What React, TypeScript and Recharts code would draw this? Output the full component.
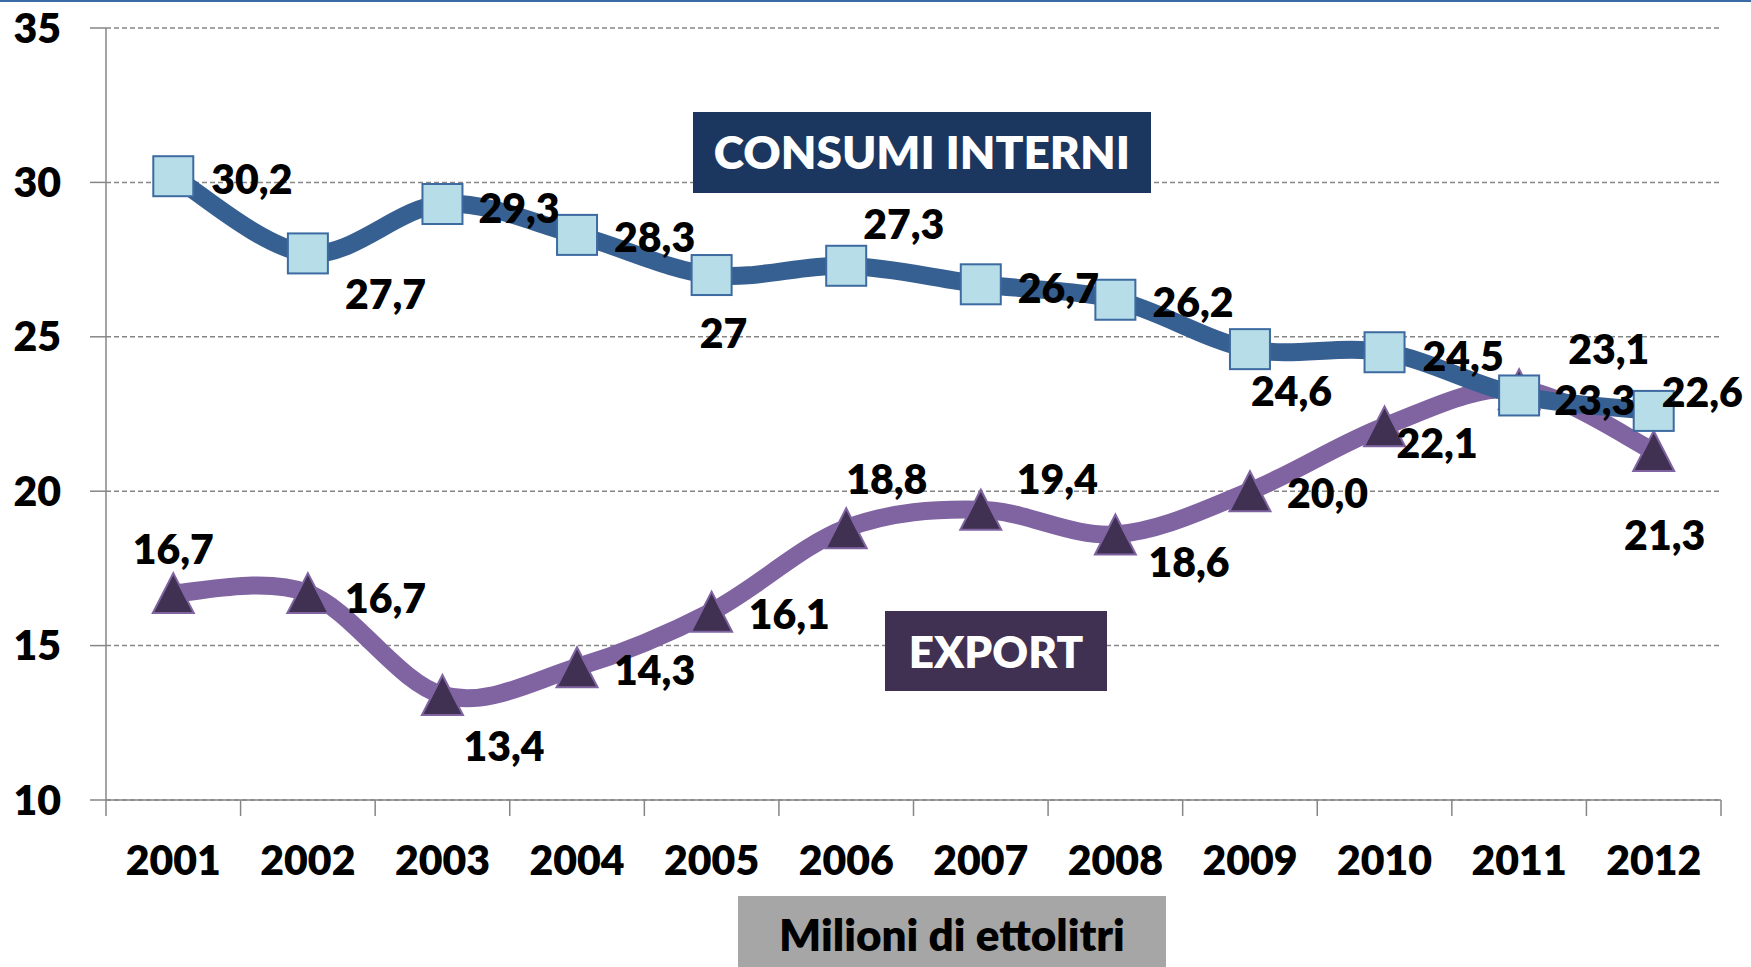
import React from 'react';
import { LineChart, Line, XAxis, YAxis, CartesianGrid, LabelList } from 'recharts';

const years = ['2001', '2002', '2003', '2004', '2005', '2006', '2007', '2008', '2009', '2010', '2011', '2012'];
const consumiInterni = [30.2, 27.7, 29.3, 28.3, 27, 27.3, 26.7, 26.2, 24.6, 24.5, 23.1, 22.6];
const exportVals = [16.7, 16.7, 13.4, 14.3, 16.1, 18.8, 19.4, 18.6, 20.0, 22.1, 23.3, 21.3];
const yTicks = [10, 15, 20, 25, 30, 35];

const data = years.map((y, i) => ({ year: y, consumi: consumiInterni[i], exp: exportVals[i] }));

// label placement (anchor, dx, dy) in px relative to the point
const consumiPlace: [string, number, number][] = [
  ['start', 38, 2], ['start', 37, 40], ['start', 36, 3], ['start', 37, 2], ['middle', 12, 57], ['start', 17, -42],
  ['start', 37, 3], ['start', 37, 2], ['start', 1, 41], ['start', 38, 3], ['start', 49, -47], ['start', 8, -19],
];
const exportPlace: [string, number, number][] = [
  ['middle', 0, -45], ['start', 37, 4], ['start', 21, 50], ['start', 37, 2], ['start', 37, 2], ['start', 0, -50],
  ['start', 36, -31], ['start', 33, 27], ['start', 37, 1], ['start', 12, 16], ['start', 35, 10], ['middle', 11, 83],
];

const FONT = 'Lato, "Open Sans", sans-serif';
const W = 800;
const GRAY = '#868686';

function excelSmooth(context: any) {
  let pts: number[][] = [];
  return {
    areaStart() {},
    areaEnd() {},
    lineStart() { pts = []; },
    point(x: number, y: number) { pts.push([+x, +y]); },
    lineEnd() {
      const n = pts.length;
      if (!n) return;
      context.moveTo(pts[0][0], pts[0][1]);
      for (let i = 0; i < n - 1; i++) {
        const p0 = pts[Math.max(0, i - 1)];
        const p1 = pts[i];
        const p2 = pts[i + 1];
        const p3 = pts[Math.min(n - 1, i + 2)];
        context.bezierCurveTo(
          p1[0] + (p2[0] - p0[0]) / 6, p1[1] + (p2[1] - p0[1]) / 6,
          p2[0] - (p3[0] - p1[0]) / 6, p2[1] - (p3[1] - p1[1]) / 6,
          p2[0], p2[1]
        );
      }
    },
  };
}

const SquareDot = (p: any) => {
  if (p.cx == null || p.cy == null) return <g key={`s${p.index}`} />;
  return (
    <rect key={`s${p.index}`} x={p.cx - 20} y={p.cy - 20} width={40} height={40}
      fill="#B7DEE8" stroke="#3D6AA0" strokeWidth={2} />
  );
};

const TriDot = (p: any) => {
  if (p.cx == null || p.cy == null) return <g key={`t${p.index}`} />;
  const { cx, cy } = p;
  return (
    <polygon key={`t${p.index}`} points={`${cx},${cy - 20} ${cx + 20.5},${cy + 20} ${cx - 20.5},${cy + 20}`}
      fill="#403152" stroke="#8064A2" strokeWidth={2} strokeLinejoin="miter" />
  );
};

const makeLabel = (places: [string, number, number][], fmt: (v: number) => string) => (p: any) => {
  const { x, y, value, index } = p;
  const pl = places[index] || ['start', 36, 0];
  return (
    <text key={`l${index}`} x={x + pl[1]} y={y + pl[2]} textAnchor={pl[0]} dominantBaseline="central"
      fontFamily={FONT} fontWeight={W} fontSize={41} fill="#000">
      {fmt(value)}
    </text>
  );
};

const fmtConsumi = (v: number) => String(v).replace('.', ',');
const fmtExport = (v: number) => v.toFixed(1).replace('.', ',');

const XTick = (props: any) => {
  const { x, y, payload, index, visibleTicksCount } = props;
  const half = payload && payload.offset ? payload.offset : (1721 - 106) / years.length / 2;
  const last = visibleTicksCount ? index === visibleTicksCount - 1 : payload.value === years[years.length - 1];
  return (
    <g>
      <line x1={x - half} x2={x - half} y1={y - 16} y2={y} stroke={GRAY} strokeWidth={1.5} />
      {last && <line x1={x + half} x2={x + half} y1={y - 16} y2={y} stroke={GRAY} strokeWidth={1.5} />}
      <text x={x} y={y + 59} textAnchor="middle" fontFamily={FONT} fontWeight={W} fontSize={41} fill="#000">
        {payload.value}
      </text>
    </g>
  );
};

export default function App() {
  return (
    <div style={{ position: 'absolute', left: 0, top: 0, width: 1751, height: 967, background: '#fff', overflow: 'hidden' }}>
      <LineChart width={1751} height={967} data={data} margin={{ top: 28, right: 30, left: 0, bottom: 67 }}>
        <CartesianGrid vertical={false} stroke={GRAY} strokeWidth={1.5} strokeDasharray="5 3" />
        <XAxis dataKey="year" scale="band" height={100} interval={0} tickSize={16} tickMargin={0}
          tickLine={{ stroke: 'transparent' }} axisLine={{ stroke: GRAY, strokeWidth: 1.5 }} tick={<XTick />} />
        <YAxis type="number" domain={[10, 35]} ticks={yTicks} width={106} interval={0} tickSize={16} tickMargin={29}
          axisLine={{ stroke: GRAY, strokeWidth: 1.5 }} tickLine={{ stroke: GRAY, strokeWidth: 1.5 }}
          tick={{ fontFamily: FONT, fontWeight: W, fontSize: 41, fill: '#000' }} />
        <Line dataKey="exp" type={excelSmooth as any} stroke="#8064A2" strokeWidth={18} dot={TriDot}
          activeDot={false} isAnimationActive={false} />
        <Line dataKey="consumi" type={excelSmooth as any} stroke="#376092" strokeWidth={18} dot={SquareDot}
          activeDot={false} isAnimationActive={false} />
        <Line dataKey="exp" stroke="none" dot={false} activeDot={false} isAnimationActive={false}>
          <LabelList dataKey="exp" content={makeLabel(exportPlace, fmtExport)} />
        </Line>
        <Line dataKey="consumi" stroke="none" dot={false} activeDot={false} isAnimationActive={false}>
          <LabelList dataKey="consumi" content={makeLabel(consumiPlace, fmtConsumi)} />
        </Line>
      </LineChart>
      <svg width={1751} height={967} style={{ position: 'absolute', left: 0, top: 0, pointerEvents: 'none' }}>
        <rect x={0} y={0} width={1751} height={2} fill="#3A6BA4" />
        <rect x={693} y={112} width={458} height={81} fill="#1C375F" />
        <text x={922} y={169} textAnchor="middle" fontFamily={FONT} fontWeight={W} fontSize={46} fill="#fff">CONSUMI INTERNI</text>
        <rect x={885} y={611} width={222} height={80} fill="#403152" />
        <text x={996} y={668} textAnchor="middle" fontFamily={FONT} fontWeight={W} fontSize={44} fill="#fff">EXPORT</text>
        <rect x={738} y={896} width={428} height={71} fill="#A6A6A6" />
        <text x={952} y={951} textAnchor="middle" fontFamily={FONT} fontWeight={W} fontSize={44} fill="#000">Milioni di ettolitri</text>
      </svg>
    </div>
  );
}
